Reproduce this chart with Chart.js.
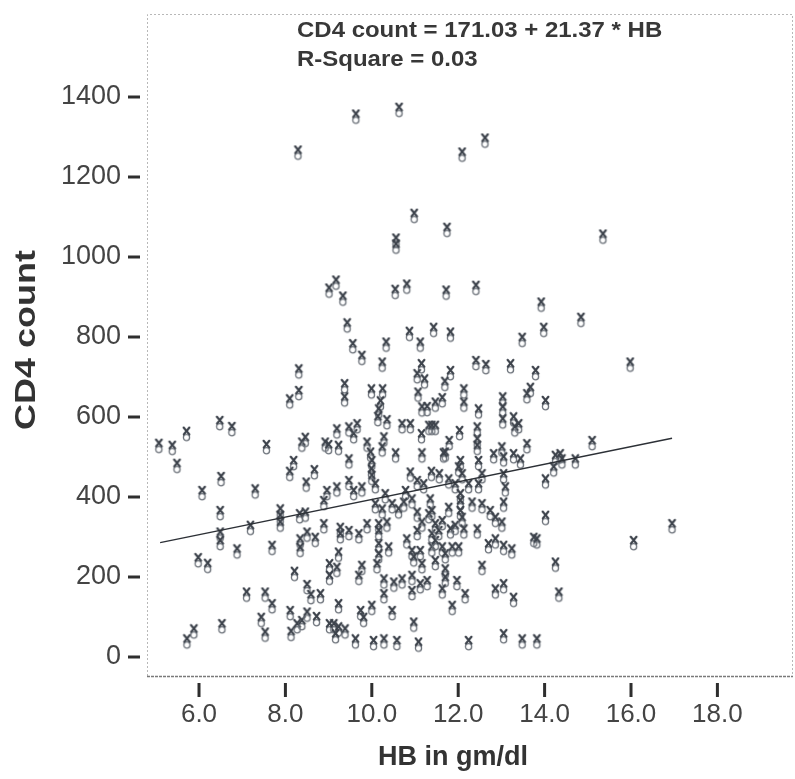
<!DOCTYPE html>
<html><head><meta charset="utf-8">
<script src="https://cdn.jsdelivr.net/npm/chart.js@4.4.1/dist/chart.umd.min.js"></script>
<style>html,body{margin:0;padding:0;background:#fff;}canvas{display:block;}</style>
</head><body>
<canvas id="c" width="795" height="779"></canvas>
<script>
// ---- data ----
const hbValues = [
 8.31,8.31,8.10,6.48,6.76,5.71,5.07,5.38,5.49,7.56,8.38,8.46,8.92,9.00,8.19,8.10,8.67,8.48,6.51,6.07,7.30,8.96,
 6.49,7.88,7.88,7.88,8.33,8.46,8.89,8.89,7.19,6.49,6.49,6.88,7.69,8.50,8.69,8.34,8.34,5.98,6.20,8.21,9.02,9.02,8.50,8.59,8.81,7.10,7.53,7.69,7.44,6.53,7.53,8.11,8.13,8.27,8.38,8.50,8.72,9.02,5.88,5.72,
 10.87,11.43,11.82,9.56,10.33,11.12,9.77,10.24,11.15,11.05,11.22,11.82,11.69,12.41,12.64,13.21,9.37,9.37,9.99,10.25,10.20,10.16,10.14,10.35,11.07,11.16,11.28,11.47,11.63,12.13,12.13,12.47,13.03,13.03,13.03,13.28,13.31,9.19,9.47,9.58,9.66,10.70,10.89,11.15,11.32,11.39,11.47,12.03,12.44,12.44,12.44,11.79,11.70,10.28,10.24,9.89,9.23,9.47,9.97,10.00,9.99,10.00,10.55,11.16,11.66,12.05,12.01,12.09,12.47,12.82,13.01,13.05,13.28,9.47,9.58,9.77,9.19,10.08,10.89,11.05,11.20,11.38,11.56,11.78,11.93,12.05,12.24,12.55,12.47,13.05,13.09,10.78,10.31,
 10.08,10.24,10.47,10.62,10.74,10.93,11.35,11.78,12.05,12.05,12.09,12.32,12.55,12.74,12.86,13.01,13.05,9.27,9.27,9.23,9.19,9.47,9.70,9.89,10.16,10.16,10.16,10.16,10.12,10.39,10.35,10.81,10.93,10.97,11.12,11.16,11.05,11.16,11.32,11.39,11.05,11.39,11.39,11.47,11.47,11.55,11.63,11.63,11.70,11.86,12.01,11.47,11.70,11.70,11.82,11.93,12.13,12.44,12.70,12.86,13.05,13.24,12.55,9.77,9.70,10.28,10.51,10.70,10.93,10.93,11.12,11.28,10.28,11.63,11.97,12.16,12.86,13.05,13.28,9.23,9.74,9.81,10.00,10.47,10.97,11.86,9.12,9.23,9.38,9.16,9.62,10.04,10.28,10.58,11.08,12.24,13.05,
 13.98,13.48,15.98,13.79,13.67,13.59,14.02,13.40,13.59,15.10,13.44,14.25,14.36,14.21,14.40,14.71,14.02,
 14.02,13.75,13.82,14.25,14.33,13.48,13.82,16.06,16.95,
 9.43,9.01,9.17,9.33,9.63,10.63,8.29,12.09,12.62,10.98,11.74,10.56,10.56,15.35,10.54,10.81,11.72,12.41,13.92,14.84
];
const cd4Values = [
 713,659,638,584,569,557,527,522,477,524,530,542,530,524,484,457,461,430,444,409,413,409,
 359,363,347,330,351,355,384,326,322,305,284,263,272,305,292,288,267,241,227,207,226,197,174,149,151,155,155,126,92,76,55,109,57,76,84,105,94,76,63,38,
 807,817,805,776,780,780,747,730,726,701,688,709,682,734,724,726,676,643,663,663,633,613,594,586,655,618,619,630,641,663,630,613,643,618,588,593,568,563,568,551,576,576,576,551,572,572,572,559,568,538,522,534,505,543,518,530,522,488,505,484,463,447,503,503,503,484,468,451,484,501,518,493,501,434,409,418,418,426,455,434,426,457,451,438,426,401,426,451,426,451,418,409,401,
 376,363,376,363,380,388,388,367,384,359,342,380,376,359,342,330,380,317,301,255,217,309,301,326,326,309,276,251,226,268,330,288,259,243,259,226,355,330,351,359,309,301,268,284,326,309,334,268,251,268,268,234,213,192,313,322,313,313,276,288,272,263,222,222,197,188,180,188,197,159,176,184,151,163,184,151,163,176,142,126,109,92,122,109,80,122,76,68,63,51,38,34,38,34,30,34,51,
 817,792,730,709,667,651,634,576,526,534,488,497,501,468,488,488,438,
 347,292,288,230,155,38,38,284,326,
 828,915,935,895,1350,1367,1260,1255,1290,1102,1067,1040,1025,1050,912,925,910,922,880,842
];
const fitHB = [5.10, 16.95];
const fitCD4 = [286, 547];
const xTickValues = [6, 8, 10, 12, 14, 16, 18];
const yTickValues = [0, 200, 400, 600, 800, 1000, 1200, 1400];
const equationLines = ["CD4 count = 171.03 + 21.37 * HB", "R-Square = 0.03"];
const xTitleText = "HB in gm/dl";
const yTitleText = "CD4 count";

// ---- marker glyph (x over a small circle) ----
function makeMarker() {
  const c = document.createElement('canvas');
  c.width = 11; c.height = 17;
  const g = c.getContext('2d');
  g.strokeStyle = '#6e747c'; g.lineWidth = 1.3;
  g.beginPath(); g.arc(5.5, 11.8, 3.1, 0, Math.PI * 2); g.stroke();
  g.strokeStyle = '#3c424b'; g.lineWidth = 2.2; g.lineCap = 'round';
  g.beginPath(); g.moveTo(2.6, 1.8); g.lineTo(8.4, 8.6); g.moveTo(8.4, 1.8); g.lineTo(2.8, 8.6); g.stroke();
  return c;
}
const marker = makeMarker();

const points = hbValues.map((x, i) => ({x: x, y: cd4Values[i]}));
const fitPoints = fitHB.map((x, i) => ({x: x, y: fitCD4[i]}));

function drawText(ctx, text, x, y, font, color, sx, rot, align) {
  ctx.save();
  ctx.translate(x, y);
  if (rot) ctx.rotate(rot);
  ctx.scale(sx, 1);
  ctx.font = font; ctx.fillStyle = color;
  ctx.textAlign = align || 'center'; ctx.textBaseline = 'middle';
  ctx.fillText(text, 0, 0);
  ctx.restore();
}

const framePlugin = {
  id: 'frame',
  beforeDatasetsDraw(chart) {
    const {ctx, chartArea: a, scales: {x, y}} = chart;
    ctx.save();
    ctx.strokeStyle = '#b8b8b8'; ctx.lineWidth = 1; ctx.setLineDash([2, 2]);
    ctx.beginPath();
    ctx.moveTo(a.left + 0.5, a.bottom); ctx.lineTo(a.left + 0.5, a.top + 0.5);
    ctx.lineTo(a.right - 0.5, a.top + 0.5); ctx.lineTo(a.right - 0.5, a.bottom);
    ctx.stroke();
    ctx.strokeStyle = '#7a7a7a'; ctx.lineWidth = 1.3; ctx.setLineDash([3, 1]);
    ctx.beginPath(); ctx.moveTo(a.left, a.bottom + 0.5); ctx.lineTo(a.right, a.bottom + 0.5); ctx.stroke();
    ctx.setLineDash([]);
    ctx.fillStyle = '#2e2e2e';
    yTickValues.forEach(v => { const p = y.getPixelForValue(v); ctx.fillRect(a.left - 19, p - 1.5, 12, 3); });
    xTickValues.forEach(v => { const p = x.getPixelForValue(v); ctx.fillRect(p - 1.5, a.bottom + 7, 3, 14); });
    ctx.restore();
  },
  afterDraw(chart) {
    const {ctx} = chart;
    drawText(ctx, yTitleText, 27, 340, 'bold 30px "Liberation Sans", Arial, sans-serif', '#333', 1.2, -Math.PI / 2);
    drawText(ctx, xTitleText, 453, 758, 'bold 27px "Liberation Sans", Arial, sans-serif', '#333', 1.0, 0);
    drawText(ctx, equationLines[0], 297, 31, 'bold 22px "Liberation Sans", Arial, sans-serif', '#383838', 1.09, 0, 'left');
    drawText(ctx, equationLines[1], 297, 60, 'bold 22px "Liberation Sans", Arial, sans-serif', '#383838', 1.09, 0, 'left');
  }
};

new Chart(document.getElementById('c').getContext('2d'), {
  type: 'scatter',
  data: {
    datasets: [
      {data: points, pointStyle: marker, pointRadius: 6, pointHoverRadius: 6, showLine: false, order: 2},
      {type: 'line', data: fitPoints, borderColor: '#2c3036', borderWidth: 1.4, pointRadius: 0, fill: false, tension: 0, order: 1}
    ]
  },
  options: {
    responsive: false, animation: false, devicePixelRatio: 1,
    layout: {autoPadding: false, padding: {top: 14, right: 2, left: 0, bottom: 0}},
    plugins: {legend: {display: false}, tooltip: {enabled: false}},
    scales: {
      x: {
        type: 'linear', min: 4.796, max: 19.75,
        afterFit(s) { s.height = 103; s.paddingLeft = 0; s.paddingRight = 0; },
        afterBuildTicks(s) { s.ticks = xTickValues.map(v => ({value: v})); },
        grid: {display: false, drawTicks: false}, border: {display: false},
        ticks: {padding: 23, autoSkip: false, maxRotation: 0, color: '#444',
          font: {family: '"Liberation Sans", Arial, sans-serif', size: 26},
          callback: v => Number(v).toFixed(1)}
      },
      y: {
        type: 'linear', min: -47.5, max: 1607.5,
        afterFit(s) { s.width = 147; s.paddingTop = 0; s.paddingBottom = 0; },
        afterBuildTicks(s) { s.ticks = yTickValues.map(v => ({value: v})); },
        grid: {display: false, drawTicks: false}, border: {display: false},
        ticks: {padding: 26, autoSkip: false, color: '#444',
          font: {family: '"Liberation Sans", Arial, sans-serif', size: 27},
          callback: v => String(v)}
      }
    }
  },
  plugins: [framePlugin]
});
</script>
</body></html>
